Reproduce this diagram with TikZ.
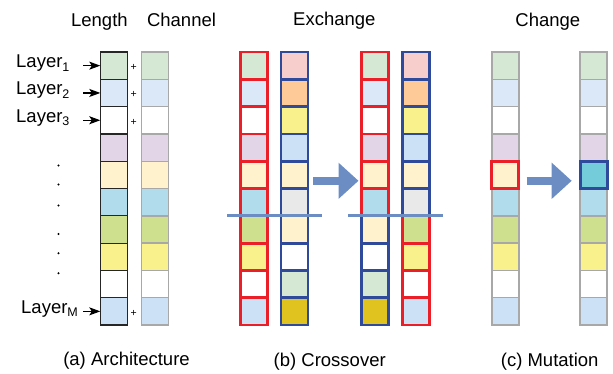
\documentclass[tikz,border=0pt]{standalone}
\usepackage{fontspec}
\setmainfont{Liberation Sans}
\usetikzlibrary{arrows.meta,calc}

% cell fill colours
\definecolor{cGreen}{HTML}{D5E8D4}
\definecolor{cSky}{HTML}{DAE8F7}
\definecolor{cLav}{HTML}{E1D5E7}
\definecolor{cCream}{HTML}{FFF2CC}
\definecolor{cAqua}{HTML}{B0DCEC}
\definecolor{cLime}{HTML}{CEDF8D}
\definecolor{cYellow}{HTML}{F9F18C}
\definecolor{cPale}{HTML}{CCE1F6}
\definecolor{cPink}{HTML}{F8CECC}
\definecolor{cOrange}{HTML}{FECB98}
\definecolor{cSilver}{HTML}{E9E9E9}
\definecolor{cMustard}{HTML}{E0C31F}
\definecolor{cCyan}{HTML}{74CCDB}
% border and arrow colours
\definecolor{cRed}{HTML}{EA1F27}
\definecolor{cBlue}{HTML}{304A9B}
\definecolor{cGray}{HTML}{A8A8A8}
\definecolor{cArrow}{HTML}{6B8DC3}

\newcommand{\lsub}[1]{\raisebox{-3.5pt}{\fontsize{12.5}{13}\selectfont #1}}

\begin{document}
\begin{tikzpicture}[x=1pt,y=-1pt,
  cell/.style={rectangle, minimum width=27pt, minimum height=27.3pt,
               inner sep=0pt, outer sep=0pt},
  lencell/.style={cell, draw=black!85, line width=1.2pt},
  greycell/.style={cell, draw=cGray, line width=1.4pt},
  xcell/.style={cell, line width=2.8pt},
  hlcell/.style={cell, line width=3pt},
  title/.style={font=\fontsize{18.5}{22}\selectfont, anchor=base, inner sep=0pt},
  lbl/.style={font=\fontsize{18.5}{22}\selectfont, anchor=base west, inner sep=0pt},
  plus/.style={font=\fontsize{10.5}{12}\selectfont, inner sep=0pt},
  ptr/.style={line width=1.2pt, -{Stealth[length=11pt,width=8pt,inset=2.5pt]}},
  blockarrow/.style={cArrow, line width=8pt,
                     -{Triangle[length=20pt,width=35pt]}},
  cutline/.style={cArrow, line width=3pt},
]
\useasboundingbox (0,0) rectangle (613,373);

% ---------- (a) architecture ----------
\node[title] (tlen) at (99.4,26) {Length};
\node[title] (tch) at (181.5,26) {Channel};

\foreach \c [count=\i] in {cGreen,cSky,white,cLav,cCream,cAqua,cLime,cYellow,white,cPale} {
  \node[lencell, fill=\c] (len\i) at (113.8,{52+27.3*(\i-0.5)}) {};
  \node[greycell, fill=\c] (ch\i) at (154.7,{52+27.3*(\i-0.5)}) {};
}

\foreach \i in {1,2,3,10} {
  \node[plus] (p\i) at ($(len\i.east)+(6.5,2)$) {+};
  \draw[ptr] ([xshift=-17pt]len\i.west) -- (len\i.west);
}

\node[lbl] (lab1) at (16,67.6) {Layer\lsub{1}};
\node[lbl] (lab2) at (16,94.9) {Layer\lsub{2}};
\node[lbl] (lab3) at (16,122.2) {Layer\lsub{3}};
\node[lbl] (labM) at (21,313.3) {Layer\lsub{M}};

\foreach \y in {165.5,184.5,205.5,234,253.3,273.3}
  \fill (58.5,\y) circle (1.1);

\node[title] (capa) at (126.5,365.5) {(a) Architecture};

% ---------- (b) crossover ----------
\node[title] (tex) at (334.3,25.5) {Exchange};

% parents
\foreach \c [count=\i] in {cGreen,cSky,white,cLav,cCream,cAqua,cLime,cYellow,white,cPale}
  \node[xcell, fill=\c, draw=cRed] (xa\i) at (253.6,{52+27.3*(\i-0.5)}) {};
\foreach \c [count=\i] in {cPink,cOrange,cYellow,cPale,cCream,cSilver,cCream,white,cGreen,cMustard}
  \node[xcell, fill=\c, draw=cBlue] (xb\i) at (294.5,{52+27.3*(\i-0.5)}) {};

% offspring: heads kept, tails swapped
\foreach \c/\b [count=\i] in {cGreen/cRed,cSky/cRed,white/cRed,cLav/cRed,cCream/cRed,cAqua/cRed,
                              cCream/cBlue,white/cBlue,cGreen/cBlue,cMustard/cBlue}
  \node[xcell, fill=\c, draw=\b] (xc\i) at (374.8,{52+27.3*(\i-0.5)}) {};
\foreach \c/\b [count=\i] in {cPink/cBlue,cOrange/cBlue,cYellow/cBlue,cPale/cBlue,cCream/cBlue,cSilver/cBlue,
                              cLime/cRed,cYellow/cRed,white/cRed,cPale/cRed}
  \node[xcell, fill=\c, draw=\b] (xd\i) at (416,{52+27.3*(\i-0.5)}) {};

% crossover points
\draw[cutline] ([xshift=-13pt]xa6.south west) -- ([xshift=13.5pt]xb6.south east);
\draw[cutline] ([xshift=-13pt]xc6.south west) -- ([xshift=13.5pt]xd6.south east);

\coordinate (xs) at (313,180.8);
\coordinate (xe) at (358.5,180.8);
\draw[blockarrow] (xs) -- (xe);

\node[title] (capb) at (329.7,366) {(b) Crossover};

% ---------- (c) mutation ----------
\node[title] (tchg) at (547.8,26) {Change};

\foreach \c [count=\i] in {cGreen,cSky,white,cLav,cCream,cAqua,cLime,cYellow,white,cPale} {
  \node[greycell, fill=\c] (ma\i) at (505.3,{52+27.3*(\i-0.5)}) {};
  \node[greycell, fill=\c] (mb\i) at (593.5,{52+27.3*(\i-0.5)}) {};
}
\node[hlcell, fill=cCream, draw=cRed] (mahl) at (ma5) {};
\node[hlcell, fill=cCyan, draw=cBlue] (mbhl) at (mb5) {};

\coordinate (ms) at (526.7,180.8);
\coordinate (me) at (571.7,180.8);
\draw[blockarrow] (ms) -- (me);

\node[title] (capc) at (549.7,366) {(c) Mutation};
\end{tikzpicture}
\end{document}
